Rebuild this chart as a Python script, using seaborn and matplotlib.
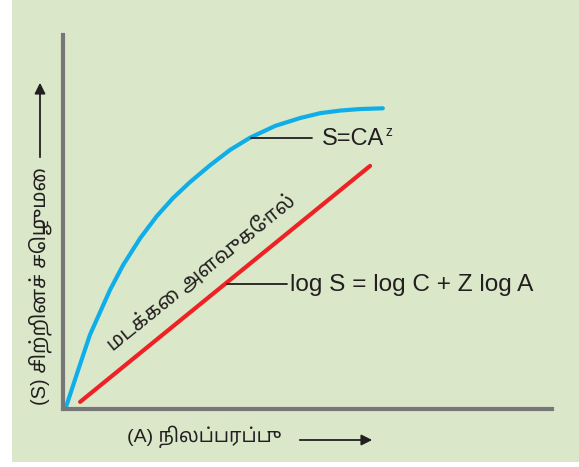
import matplotlib
matplotlib.use("Agg")
import matplotlib.pyplot as plt
import seaborn as sns
import pandas as pd
from matplotlib import font_manager
from matplotlib.ft2font import FT2Font

# ---------------- data ----------------
power_x = [0.6, 3.1, 5.5, 9.6, 12.3, 15.8, 19.2, 22.5, 26.0, 30.1, 34.2, 38.2,
           43.4, 48.5, 52.6, 56.7, 60.7, 65.4]
power_y = [0.5, 10.4, 19.8, 31.8, 38.5, 45.7, 51.6, 56.4, 60.7, 65.2, 69.3, 72.5,
           75.7, 77.8, 79.1, 79.8, 80.2, 80.4]
log_x = [3.5, 62.8]
log_y = [1.9, 65.0]

y_label = "(S) சிற்றினச் செழுமை"
x_label = "(A) நிலப்பரப்பு"
log_scale_label = "மடக்கை அளவுகோல்"
power_base = "S=CA"
power_exp = "z"
log_label = "log S = log C + Z log A"

# ---------------- fonts ----------------
def find_tamil_fonts():
    found = []
    seen = set()
    paths = [f.fname for f in font_manager.fontManager.ttflist] + font_manager.findSystemFonts()
    for p in paths:
        if p in seen:
            continue
        seen.add(p)
        try:
            cm = FT2Font(p).get_charmap()
        except Exception:
            continue
        if 0x0BA8 in cm and 0x0BAE in cm:
            try:
                name = font_manager.FontProperties(fname=p).get_name()
                found.append((p, name))
            except Exception:
                pass
    return found


def score(name):
    n = name.lower()
    s = 0
    if "noto sans tamil" in n:
        s -= 10
    if "lohit" in n:
        s -= 8
    if "sans" in n:
        s -= 3
    if "mono" in n:
        s += 10
    return s

tamil = find_tamil_fonts()
for p, n in tamil:
    try:
        font_manager.fontManager.addfont(p)
    except Exception:
        pass
tamil_names = sorted({n for _, n in tamil}, key=score)

sns.set_style("white")
plt.rcParams['font.family'] = ['Liberation Sans', 'DejaVu Sans']
tamil_family = ['Liberation Sans'] + tamil_names[:1] + ['DejaVu Sans']

BG = "#dae8c9"
INK = "#231f20"
fig = plt.figure(figsize=(5.79, 4.67), dpi=100, facecolor="white")
fig.patches.append(plt.Rectangle((12 / 579, 5 / 467), 1, 1, transform=fig.transFigure,
                                 facecolor=BG, edgecolor="none", zorder=-10))
ax = fig.add_axes([63 / 579, 1 - 409 / 467, (552 - 63) / 579, (409 - 35) / 467])
ax.set_facecolor(BG)

df_pow = pd.DataFrame({"x": power_x, "y": power_y})
df_log = pd.DataFrame({"x": log_x, "y": log_y})
sns.lineplot(data=df_pow, x="x", y="y", ax=ax, color="#10aee8", lw=3, estimator=None,
             sort=False, solid_joinstyle="round")
sns.lineplot(data=df_log, x="x", y="y", ax=ax, color="#ee2224", lw=3, estimator=None, sort=False)

ax.set_xlim(0, 100)
ax.set_ylim(0, 100)
ax.set_xticks([])
ax.set_yticks([])
ax.set_xlabel("")
ax.set_ylabel("")
for s in ["top", "right"]:
    ax.spines[s].set_visible(False)
for s in ["left", "bottom"]:
    ax.spines[s].set_color("#777777")
    ax.spines[s].set_linewidth(3)


def px(x, y):
    return ((x - 63) / 489 * 100, (409 - y) / 374 * 100)

# annotation leader lines and labels
ax.plot(*zip(px(251, 138), px(312, 138)), color=INK, lw=1.3)
base = ax.text(*px(322, 139), power_base, fontsize=17, color=INK, va="center", ha="left")
ax.annotate(power_exp, xy=(1, 1), xycoords=base, xytext=(1, 2), textcoords="offset points",
            fontsize=10, color=INK, ha="left", va="top")
ax.plot(*zip(px(227, 284), px(287, 284)), color=INK, lw=1.3)
ax.text(*px(290, 285), log_label, fontsize=17.6, color=INK, va="center", ha="left")

ax.text(*px(201, 272), log_scale_label, fontsize=14.5, color=INK, rotation=39,
        rotation_mode="anchor", ha="center", va="center", family=tamil_family)

# axis labels as figure text
fig.text(40 / 579, 1 - 286 / 467, y_label, rotation=90, fontsize=14.5, color=INK,
         ha="center", va="center", family=tamil_family)
fig.text(127 / 579, 1 - 437 / 467, x_label, fontsize=14, color=INK,
         ha="left", va="center", family=tamil_family)

arrow = dict(arrowstyle="-|>", color=INK, lw=1.3, mutation_scale=16)
fig.add_artist(matplotlib.patches.FancyArrowPatch((40 / 579, 1 - 160 / 467), (40 / 579, 1 - 80 / 467),
               transform=fig.transFigure, **arrow))
fig.add_artist(matplotlib.patches.FancyArrowPatch((297 / 579, 1 - 440 / 467), (375 / 579, 1 - 440 / 467),
               transform=fig.transFigure, **arrow))

fig.savefig("out.png", dpi=100, facecolor="white")
